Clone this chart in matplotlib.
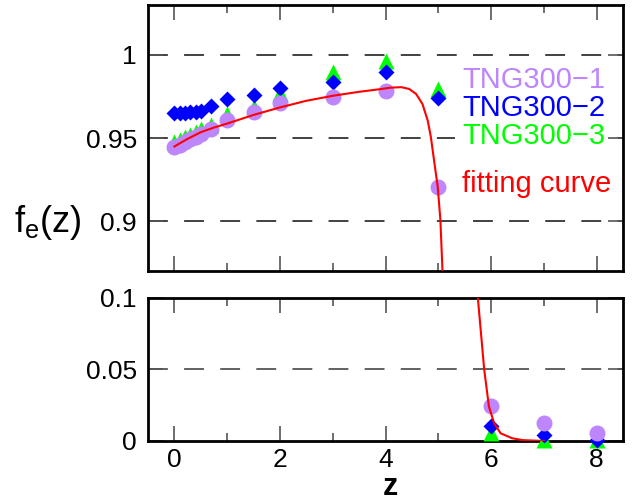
import matplotlib
matplotlib.use("Agg")
import matplotlib.pyplot as plt
from matplotlib.patches import Rectangle
import numpy as np

plt.rcParams['font.family'] = ['Liberation Sans', 'DejaVu Sans']
plt.rcParams['mathtext.default'] = 'regular'

# redshifts of the snapshots
z = [0, 0.1, 0.2, 0.3, 0.4, 0.5, 0.7, 1, 1.5, 2, 3, 4, 5, 6, 7, 8]

# f_e(z)
tng1 = [0.9443, 0.9459, 0.9476, 0.9492, 0.9508, 0.9523, 0.9555, 0.9609, 0.9659,
        0.9708, 0.9748, 0.9784, 0.9205, 0.0245, 0.0124, 0.0058]
tng2 = [0.9648, 0.9650, 0.9652, 0.9655, 0.9658, 0.9662, 0.9695, 0.9735, 0.9758,
        0.9800, 0.9834, 0.9898, 0.9740, 0.0107, 0.0042, 0.0008]
tng3 = [0.9475, 0.9490, 0.9505, 0.9520, 0.9538, 0.9553, 0.9580, 0.9645, 0.9688,
        0.9770, 0.9898, 0.9964, 0.9793, 0.0054, 0.0010, 0.0005]

# fitting curve, sampled from the figure
fit_z = [0.0, 0.25, 0.5, 0.75, 1.0, 1.5, 2.0, 2.5, 3.0, 3.5, 3.9, 4.1, 4.3, 4.45,
         4.58, 4.7, 4.8, 4.86, 4.92, 4.99, 5.04, 5.08, 5.2, 5.35, 5.5, 5.62, 5.75,
         5.87, 5.96, 6.06, 6.18, 6.4, 6.6, 7.0]
fit_f = [0.9449, 0.9495, 0.9535, 0.9563, 0.9587, 0.9639, 0.9684, 0.9724, 0.9754,
         0.9778, 0.9794, 0.9803, 0.9806, 0.9795, 0.9765, 0.9705, 0.9605, 0.9505,
         0.9365, 0.9205, 0.9006, 0.87, 0.78, 0.60, 0.35, 0.18, 0.10,
         0.05, 0.024, 0.0123, 0.0054, 0.0019, 0.0006, 0.0]

labels = ['TNG300\u22121', 'TNG300\u22122', 'TNG300\u22123', 'fitting curve']
purple = '#bd86fc'
colors = [purple, '#0000ff', '#00ff00', '#ff0000']

fig = plt.figure(figsize=(6.4, 5.03), dpi=100)
ax1 = fig.add_axes([0.23125, 0.4612, 0.7422, 0.5288])
ax2 = fig.add_axes([0.23125, 0.1233, 0.7422, 0.2843])

zz = np.array(z)
hi = zz <= 5
lo = zz >= 6

for ax, m, clip in [(ax1, hi, True), (ax2, lo, False)]:
    ax.plot(zz[m], np.array(tng3)[m], '^', color=colors[2], ms=11.5, mec='none', clip_on=clip, zorder=3)
    ax.plot(zz[m], np.array(tng2)[m], 'D', color=colors[1], ms=8.4, mec='none', clip_on=clip, zorder=4)
    ax.plot(zz[m], np.array(tng1)[m], 'o', color=colors[0], ms=11.5, mec='none', clip_on=clip, zorder=5)
    ax.plot(fit_z, fit_f, '-', color=colors[3], lw=1.5, zorder=6)
    ax.set_xlim(-0.5, 8.5)
    ax.set_xticks([0, 2, 4, 6, 8])
    ax.set_xticks([1, 3, 5, 7], minor=True)
    ax.tick_params(axis='both', which='both', direction='in', top=True, right=True,
                   color='#555555', width=1.2, labelsize=19)
    ax.tick_params(axis='both', which='major', length=11)
    ax.tick_params(axis='x', which='minor', length=5.5)
    ax.tick_params(axis='x', pad=5)
    ax.tick_params(axis='y', pad=8)
    for s in ax.spines.values():
        s.set_linewidth(2)

ax1.set_ylim(0.87, 1.03)
ax1.set_yticks([0.9, 0.95, 1])
ax1.set_yticklabels(['0.9', '0.95', '1'])
ax1.set_xticklabels([])
for yv in [0.9, 0.95, 1]:
    ax1.axhline(yv, color='#333333', lw=1.3, dashes=(11, 9), zorder=1)

ax2.set_ylim(0, 0.1)
ax2.set_yticks([0, 0.05, 0.1])
ax2.set_yticklabels(['0', '0.05', '0.1'])
ax2.set_xticklabels(['0', '2', '4', '6', '8'])
ax2.axhline(0.05, color='#555555', lw=1.3, dashes=(11, 9), zorder=1)

# legend as coloured text on a white box
ax1.add_patch(Rectangle((0.646, 0.267), 0.322, 0.519, transform=ax1.transAxes,
                        facecolor='white', edgecolor='none', zorder=2))
ys = [0.688, 0.583, 0.477, 0.297]
for lab, c, y in zip(labels, colors, ys):
    ax1.text(0.661, y, lab, color=c, fontsize=21, transform=ax1.transAxes,
             ha='left', va='baseline', zorder=7)

fig.text(14 / 640, 1 - 232 / 503, 'f$_e$(z)', fontsize=26, ha='left', va='baseline')
fig.text(390 / 640, 1 - 495 / 503, 'z', fontsize=22, fontweight='bold',
         ha='center', va='baseline')

fig.savefig('out.png', dpi=100)
